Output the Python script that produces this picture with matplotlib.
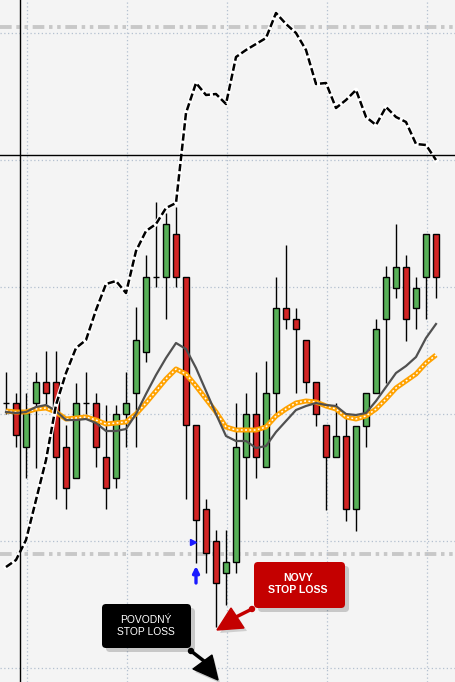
import matplotlib
matplotlib.use("Agg")
import matplotlib.pyplot as plt
from matplotlib.patches import FancyBboxPatch, Polygon, Circle
import numpy as np

plt.rcParams['font.family'] = ['Liberation Sans', 'DejaVu Sans']

# candle data (price levels)
opens = [279, 279, 235, 279, 300, 300, 235, 204, 279, 279, 225, 204, 268, 289, 330, 405,
         405, 448, 405, 257, 173, 141, 109, 120, 225, 268, 215, 289, 374, 363, 342, 300,
         257, 225, 246, 173, 256, 289, 363, 394, 415, 374, 405, 448]
highs = [310, 289, 289, 310, 331, 331, 257, 299, 310, 289, 277, 277, 310, 375, 427, 480,
         469, 475, 405, 257, 183, 152, 152, 279, 289, 310, 321, 405, 437, 374, 342, 300,
         257, 279, 265, 256, 289, 363, 416, 458, 427, 405, 448, 448]
lows = [268, 235, 204, 214, 278, 183, 173, 204, 268, 215, 173, 194, 235, 235, 320, 395,
        363, 395, 183, 119, 109, 55, 77, 109, 183, 204, 215, 267, 353, 289, 289, 256,
        172, 225, 161, 151, 235, 289, 299, 384, 341, 353, 363, 384]
closes = [279, 247, 269, 300, 289, 225, 194, 279, 279, 235, 194, 268, 279, 342, 405, 405,
          458, 405, 257, 162, 129, 99, 120, 235, 268, 225, 289, 374, 363, 353, 300, 268,
          225, 246, 173, 256, 289, 353, 405, 415, 363, 394, 448, 405]

# second instrument (dashed) and two moving averages
dashed = [115, 122, 142, 182, 222, 277, 309, 334, 342, 372, 398, 401, 389, 431, 451, 458,
          474, 479, 569, 599, 587, 588, 578, 625, 632, 638, 644, 669, 658, 649, 632, 598,
          599, 574, 582, 592, 565, 557, 575, 565, 560, 538, 537, 522]
ma_gray = [270, 269, 270, 275, 277, 271, 262, 262, 263, 259, 251, 251, 253, 268, 288, 307,
           324, 339, 333, 314, 291, 268, 246, 241, 241, 234, 236, 250, 261, 272, 276, 279,
           277, 276, 268, 267, 269, 281, 295, 309, 316, 325, 344, 358]
ma_orange = [271, 270, 270, 273, 274, 270, 263, 264, 265, 262, 258, 259, 260, 268, 279, 291,
             303, 313, 308, 296, 283, 270, 255, 252, 252, 252, 255, 266, 273, 279, 281, 280,
             276, 273, 265, 263, 266, 273, 283, 294, 301, 308, 319, 327]

stop_levels = [655, 128]
cross_level = 527
grid_x = [2.1, 12.1, 22.1, 32.1, 42.1]
grid_y = [14, 141, 268, 395, 522, 649]

BG = '#f4f4f4'
GREEN = '#58b058'
RED = '#d22424'

fig = plt.figure(figsize=(4.55, 6.82), dpi=100)
fig.patch.set_facecolor(BG)
ax = fig.add_axes([0, 0, 1, 1])
ax.set_facecolor(BG)
ax.set_xlim(-0.6, 44.9)
ax.set_ylim(0, 682)
ax.set_xticks(grid_x)
ax.set_yticks(grid_y)
ax.grid(True, color='#b4c0cf', linestyle=(0, (1, 2)), linewidth=0.9)
ax.tick_params(length=0, labelbottom=False, labelleft=False)
for s in ax.spines.values():
    s.set_visible(False)

# stop loss lines
for lv in stop_levels:
    ax.axhline(lv, color='#c8c8c8', linewidth=2.8,
               linestyle=(0, (3.0, 1.2, 0.9, 1.2, 0.9, 1.2)), zorder=1)

# candles
idx = np.arange(len(opens))
o = np.array(opens)
c = np.array(closes)
cols = [GREEN if cc > oo else RED for oo, cc in zip(o, c)]
ax.vlines(idx, lows, highs, color='black', linewidth=1, zorder=2)
ax.bar(idx, np.abs(c - o), bottom=np.minimum(o, c), width=0.62, color=cols,
       edgecolor='black', linewidth=1, zorder=3)

# moving averages
ax.plot(idx, ma_orange, color='#ffa200', linewidth=3.6, zorder=4, solid_capstyle='butt')
ax.plot(idx, ma_orange, color='white', linewidth=1.1, linestyle=(0, (1.2, 1.6)), zorder=4)
ax.plot(idx, ma_gray, color='#505050', linewidth=1.6, zorder=4)

# dashed instrument with white halo
ax.plot(idx, dashed, color='white', linewidth=3.4, zorder=5)
ax.plot(idx, dashed, color='black', linewidth=1.8, linestyle=(0, (2.9, 1.2)), zorder=6)

# entry marks
ax.plot([18.7], [140], marker='>', color='#1a1aff', markersize=5, zorder=6)
ax.annotate('', xy=(19, 116), xytext=(19, 99),
            arrowprops=dict(arrowstyle='-|>', color='#1a1aff', lw=2.4,
                            mutation_scale=9, shrinkA=0, shrinkB=0), zorder=6)

# overlay in pixel coordinates for crosshair and callouts
ov = fig.add_axes([0, 0, 1, 1])
ov.set_xlim(0, 455)
ov.set_ylim(682, 0)
ov.axis('off')
ov.patch.set_alpha(0)
ov.axvline(19.5, color='black', linewidth=1)
ax.axhline(cross_level, color='black', linewidth=1, zorder=7)

# black callout
ov.add_patch(FancyBboxPatch((106, 608), 89, 44, boxstyle='round,pad=0,rounding_size=4',
                            facecolor='#000000', alpha=0.18, edgecolor='none'))
ov.add_patch(FancyBboxPatch((102, 604), 89, 44, boxstyle='round,pad=0,rounding_size=4',
                            facecolor='black', edgecolor='none'))
ov.text(146, 626, 'POVODNÝ\nSTOP LOSS', color='white', fontsize=7.4, ha='center',
        va='center', linespacing=1.25)
ov.plot([191, 204], [651, 661], color='black', linewidth=2.5)
ov.add_patch(Circle((191, 651), 2.5, color='black'))
ov.add_patch(Polygon([(195, 672), (214, 658), (220, 683)], closed=True,
                     facecolor='#000000', alpha=0.18, edgecolor='none'))
ov.add_patch(Polygon([(193, 669), (212, 655), (218, 680)], closed=True, color='black'))

# red callout
ov.add_patch(FancyBboxPatch((258, 566), 91, 46, boxstyle='round,pad=0,rounding_size=4',
                            facecolor='#000000', alpha=0.18, edgecolor='none'))
ov.add_patch(FancyBboxPatch((254, 562), 91, 46, boxstyle='round,pad=0,rounding_size=4',
                            facecolor='#c40000', edgecolor='none'))
ov.text(298, 584, 'NOVY\nSTOP LOSS', color='white', fontsize=7.6, fontweight='bold',
        ha='center', va='center', linespacing=1.2)
ov.plot([252, 236], [609, 617], color='#c40000', linewidth=2.5)
ov.add_patch(Circle((252, 609), 2.5, color='#c40000'))
ov.add_patch(Polygon([(220, 633), (234, 611), (247, 631)], closed=True,
                     facecolor='#000000', alpha=0.15, edgecolor='none'))
ov.add_patch(Polygon([(217, 630), (231, 608), (244, 628)], closed=True, color='#c40000'))

fig.savefig('out.png', dpi=100, facecolor=BG)
